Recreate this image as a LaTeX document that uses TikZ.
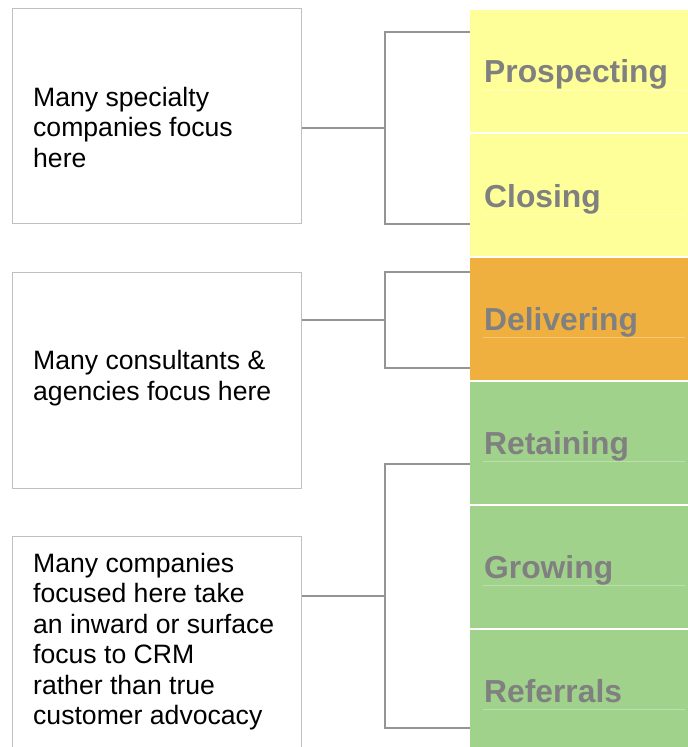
\documentclass[tikz,border=0pt]{standalone}
\usepackage{fontspec}
\setmainfont{Liberation Sans}
\begin{document}
\begin{tikzpicture}[x=1pt,y=-1pt,
  note/.style={draw=boxgray,line width=1.4pt,fill=white,anchor=north west,inner sep=0pt},
  notetext/.style={anchor=north west,inner sep=0pt,align=left,font=\fontsize{26.6}{30.4}\selectfont,text=black},
  stage/.style={anchor=north west,inner sep=0pt,minimum width=218pt,minimum height=122pt,draw=none},
  stagetext/.style={anchor=base west,inner sep=0pt,font=\fontsize{31.8}{36}\selectfont\bfseries,text=labelgray},
  conn/.style={draw=conngray,line width=1.4pt},
  rule/.style={draw=white,opacity=0.3,line width=0.8pt}]
\definecolor{boxgray}{HTML}{C0C0C0}
\definecolor{conngray}{HTML}{949494}
\definecolor{labelgray}{HTML}{808080}
\definecolor{stageyellow}{HTML}{FFFF99}
\definecolor{stageorange}{HTML}{F0B040}
\definecolor{stagegreen}{HTML}{A0D28C}
\clip (0,0) rectangle (688,747);

% focus boxes on the left
\node[note,minimum width=289pt,minimum height=215pt] (box1) at (12,8) {};
\node[note,minimum width=289pt,minimum height=216pt] (box2) at (12,272) {};
\node[note,minimum width=289pt,minimum height=240pt] (box3) at (12,536) {};
\node[notetext] (t1) at (33,87) {Many specialty\\companies focus\\here};
\node[notetext] (t2) at (33,350.5) {Many consultants \&\\agencies focus here};
\node[notetext] (t3) at (33,553) {Many companies\\focused here take\\an inward or surface\\focus to CRM\\rather than true\\customer advocacy};

% relationship stages on the right
\node[stage,fill=stageyellow] (s1) at (470,10) {};
\node[stage,fill=stageyellow] (s2) at (470,134) {};
\node[stage,fill=stageorange] (s3) at (470,258) {};
\node[stage,fill=stagegreen] (s4) at (470,382) {};
\node[stage,fill=stagegreen] (s5) at (470,506) {};
\node[stage,fill=stagegreen] (s6) at (470,630) {};
\foreach \y in {90,214,337,461,585,709} \draw[rule] (483,\y) -- (685,\y);
\node[stagetext] (l1) at (484,82) {Prospecting};
\node[stagetext] (l2) at (484,207) {Closing};
\node[stagetext] (l3) at (484,330) {Delivering};
\node[stagetext] (l4) at (484,454) {Retaining};
\node[stagetext] (l5) at (484,578) {Growing};
\node[stagetext] (l6) at (484,702) {Referrals};

% brackets joining boxes to stages
\coordinate (j1t) at (385,32);  \coordinate (j1b) at (385,224); \coordinate (j1m) at (385,128);
\coordinate (j2t) at (385,272); \coordinate (j2b) at (385,368); \coordinate (j2m) at (385,320);
\coordinate (j3t) at (385,464); \coordinate (j3b) at (385,728); \coordinate (j3m) at (385,596);
\draw[conn] (s1.west |- j1t) -- (j1t) -- (j1b) -- (s2.west |- j1b);
\draw[conn] (box1.east |- j1m) -- (j1m);
\draw[conn] (s3.west |- j2t) -- (j2t) -- (j2b) -- (s3.west |- j2b);
\draw[conn] (box2.east |- j2m) -- (j2m);
\draw[conn] (s4.west |- j3t) -- (j3t) -- (j3b) -- (s6.west |- j3b);
\draw[conn] (box3.east |- j3m) -- (j3m);
\end{tikzpicture}
\end{document}
